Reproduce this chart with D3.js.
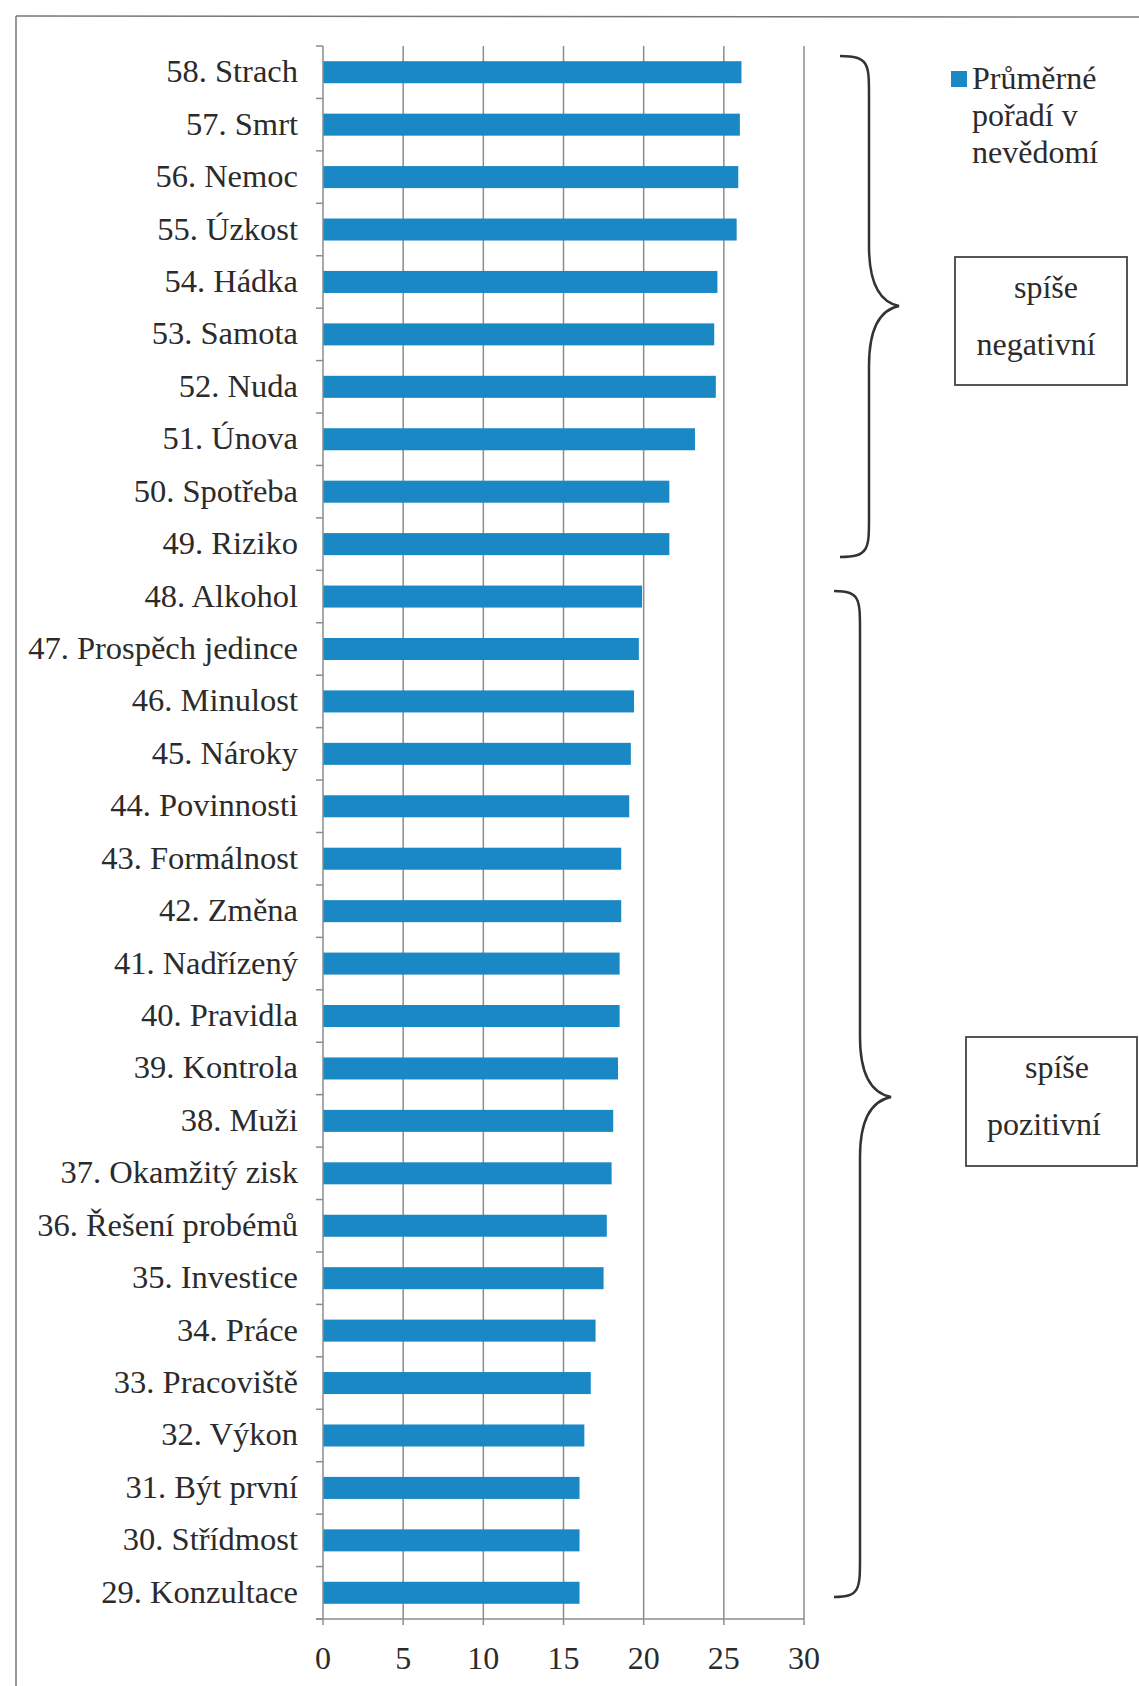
<!DOCTYPE html>
<html><head><meta charset="utf-8">
<script src="https://cdn.jsdelivr.net/npm/d3@7"></script>
<style>body{margin:0;background:#fff}svg{display:block}</style>
</head><body>
<script>
const categories = ["58. Strach","57. Smrt","56. Nemoc","55. Úzkost","54. Hádka","53. Samota","52. Nuda","51. Únova","50. Spotřeba","49. Riziko","48. Alkohol","47. Prospěch jedince","46. Minulost","45. Nároky","44. Povinnosti","43. Formálnost","42. Změna","41. Nadřízený","40. Pravidla","39. Kontrola","38. Muži","37. Okamžitý zisk","36. Řešení probémů","35. Investice","34. Práce","33. Pracoviště","32. Výkon","31. Být první","30. Střídmost","29. Konzultace"];
const values = [26.1,26.0,25.9,25.8,24.6,24.4,24.5,23.2,21.6,21.6,19.9,19.7,19.4,19.2,19.1,18.6,18.6,18.5,18.5,18.4,18.1,18.0,17.7,17.5,17.0,16.7,16.3,16.0,16.0,16.0];
const xTicks = [0,5,10,15,20,25,30];
const legendLines = ["Průměrné","pořadí v","nevědomí"];
const groupNeg = ["spíše","negativní"];
const groupPos = ["spíše","pozitivní"];

(function(){
const W = 1139, H = 1686;
const svg = d3.select("body").append("svg").attr("width", W).attr("height", H);
const font = "'Liberation Serif', 'Times New Roman', serif";
const txtCol = "#2b2b2b", gridCol = "#8c8c8c", blue = "#1a88c4";

// frame
svg.append("line").attr("x1",16).attr("y1",16).attr("x2",W).attr("y2",17).attr("stroke","#777").attr("stroke-width",1.5);
svg.append("line").attr("x1",16).attr("y1",16).attr("x2",16).attr("y2",H).attr("stroke","#777").attr("stroke-width",1.5);

const yTop = 46, yBot = 1619;
const x = d3.scaleLinear().domain([0,30]).range([323, 804]);
const y = d3.scaleBand().domain(categories).range([yTop, yBot]).paddingInner(0.58).paddingOuter(0.29);

// gridlines
svg.append("g").selectAll("line").data(xTicks.filter(d=>d>0)).join("line")
  .attr("x1", d=>x(d)).attr("x2", d=>x(d)).attr("y1", yTop).attr("y2", yBot+6)
  .attr("stroke", gridCol).attr("stroke-width", 1.5);

// bars
svg.append("g").selectAll("rect").data(values).join("rect")
  .attr("x", x(0)).attr("y", (d,i)=>y(categories[i]))
  .attr("width", d=>x(d)-x(0)).attr("height", y.bandwidth())
  .attr("fill", blue);

// y axis line + ticks at band boundaries
svg.append("line").attr("x1",x(0)).attr("x2",x(0)).attr("y1",yTop).attr("y2",yBot+6).attr("stroke",gridCol).attr("stroke-width",1.5);
const bounds = d3.range(categories.length+1).map(i => yTop + i*(yBot-yTop)/categories.length);
svg.append("g").selectAll("line").data(bounds).join("line")
  .attr("x1", x(0)-7).attr("x2", x(0)).attr("y1", d=>d).attr("y2", d=>d)
  .attr("stroke", gridCol).attr("stroke-width", 1.5);

// x axis
svg.append("line").attr("x1",x(0)-7).attr("x2",x(30)).attr("y1",yBot).attr("y2",yBot).attr("stroke",gridCol).attr("stroke-width",1.5);
svg.append("g").selectAll("text").data(xTicks).join("text")
  .attr("x", d=>x(d)).attr("y", yBot+50).attr("text-anchor","middle")
  .attr("font-family", font).attr("font-size", 32).attr("fill", txtCol).text(d=>d);

// category labels
svg.append("g").selectAll("text").data(categories).join("text")
  .attr("x", x(0)-25).attr("y", d=>y(d)+y.bandwidth()/2+10).attr("text-anchor","end")
  .attr("font-family", font).attr("font-size", 32.5).attr("fill", txtCol).text(d=>d);

// legend
svg.append("rect").attr("x",951).attr("y",71).attr("width",16).attr("height",16).attr("fill",blue);
svg.append("g").selectAll("text").data(legendLines).join("text")
  .attr("x", 972).attr("y", (d,i)=>89+i*37)
  .attr("font-family", font).attr("font-size", 32).attr("fill", txtCol).text(d=>d);

// boxes
function box(x0,y0,w,h,lines,cx,ys){
  svg.append("rect").attr("x",x0).attr("y",y0).attr("width",w).attr("height",h)
    .attr("fill","none").attr("stroke","#444").attr("stroke-width",1.8);
  svg.append("g").selectAll("text").data(lines).join("text")
    .attr("x",(d,i)=>cx[i]).attr("y",(d,i)=>ys[i]).attr("text-anchor","middle")
    .attr("font-family", font).attr("font-size", 32).attr("fill", txtCol).text(d=>d);
}
box(955,257,172,128,groupNeg,[1046,1036],[298,355]);
box(966,1037,171,129,groupPos,[1057,1044],[1078,1135]);

// braces
function brace(xEnd, y0, y1, xSpine, xTip, yTip){
  const r = 30;
  const p = d3.path();
  p.moveTo(xEnd, y0);
  p.bezierCurveTo(xSpine, y0, xSpine, y0+8, xSpine, y0+r+10);
  p.lineTo(xSpine, yTip-60);
  p.bezierCurveTo(xSpine, yTip-15, xTip-15, yTip-3, xTip, yTip);
  p.bezierCurveTo(xTip-15, yTip+3, xSpine, yTip+15, xSpine, yTip+60);
  p.lineTo(xSpine, y1-r-10);
  p.bezierCurveTo(xSpine, y1-8, xSpine, y1, xEnd, y1);
  svg.append("path").attr("d", p.toString()).attr("fill","none").attr("stroke","#333").attr("stroke-width",2.5);
}
brace(840, 56, 557, 869, 899, 306);
brace(834, 591, 1597, 860, 891, 1097);
})();
</script>
</body></html>
